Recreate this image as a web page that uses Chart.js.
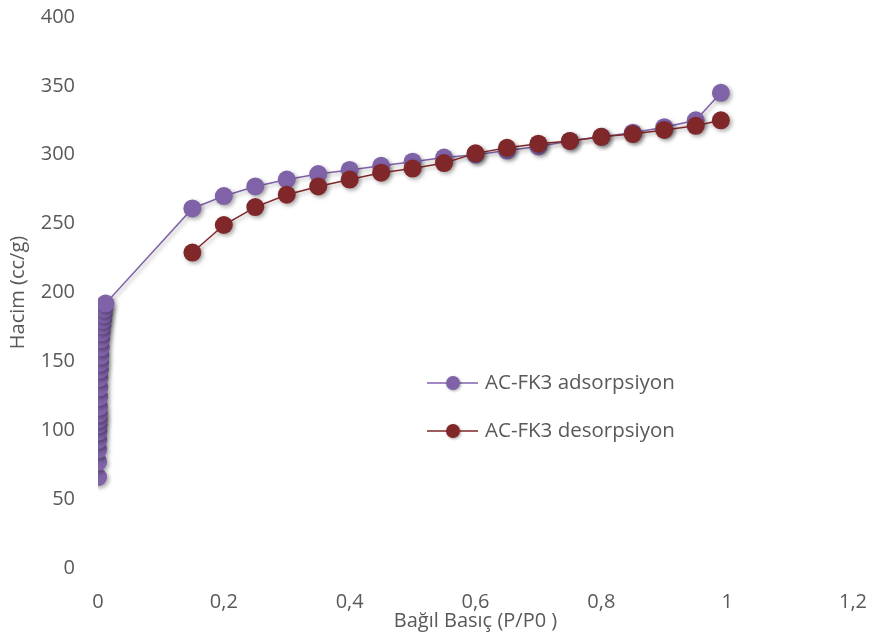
<!DOCTYPE html>
<html><head><meta charset="utf-8">
<script src="https://cdn.jsdelivr.net/npm/chart.js@4/dist/chart.umd.min.js"></script>
<style>html,body{margin:0;padding:0;background:#fff}#wrap{width:869px;height:640px}</style>
</head><body><div id="wrap"><canvas id="c" width="869" height="640"></canvas></div>
<script>
const seriesNames = ["AC-FK3 adsorpsiyon", "AC-FK3 desorpsiyon"];
const xTitle = "Bağıl Basıç (P/P0 )";
const yTitle = "Hacim (cc/g)";
const adsX = [0.0001,0.0002,0.0003,0.0005,0.0007,0.001,0.0012,0.0015,0.0018,0.002,0.0022,0.0025,0.003,0.0035,0.004,0.0045,0.005,0.006,0.007,0.008,0.009,0.01,0.012,
  0.15,0.2,0.25,0.3,0.35,0.4,0.45,0.5,0.55,0.6,0.65,0.7,0.75,0.8,0.85,0.9,0.95,0.99];
const adsY = [66,77,86,93,99,104,108,112,117,124,131,138,144,149,154,160,166,171,176,180,184,188,192,
  261,270,277,282,286,289,292,295,298,300,303,306,310,313,316,320,325,345];
const desX = [0.15,0.2,0.25,0.3,0.35,0.4,0.45,0.5,0.55,0.6,0.65,0.7,0.75,0.8,0.85,0.9,0.95,0.99];
const desY = [229,249,262,271,277,282,287,290,294,301,305,308,310,313,315,318,321,325];

const purple = "#7f62a8";
const red = "#80272a";
const FONT = "'Open Sans', 'Liberation Sans', sans-serif";
const toPts = (xs, ys) => xs.map((x, i) => ({x, y: ys[i]}));

const shadowPlugin = {
  id: 'shadow',
  beforeDatasetsDraw(chart) {
    const ctx = chart.ctx; ctx.save();
    ctx.shadowColor = 'rgba(0,0,0,0.35)'; ctx.shadowBlur = 4; ctx.shadowOffsetX = 2; ctx.shadowOffsetY = 2;
  },
  afterDatasetsDraw(chart) { chart.ctx.restore(); }
};

const legendPlugin = {
  id: 'customLegend',
  afterDraw(chart) {
    const ctx = chart.ctx;
    const items = [{ds: chart.data.datasets[1], y: 383}, {ds: chart.data.datasets[0], y: 431}];
    ctx.save();
    items.forEach(it => {
      const c = it.ds.borderColor;
      ctx.strokeStyle = c; ctx.lineWidth = 1.5;
      ctx.beginPath(); ctx.moveTo(427, it.y); ctx.lineTo(478, it.y); ctx.stroke();
      ctx.shadowColor = 'rgba(0,0,0,0.35)'; ctx.shadowBlur = 3; ctx.shadowOffsetX = 1; ctx.shadowOffsetY = 1;
      ctx.fillStyle = c; ctx.beginPath(); ctx.arc(453, it.y, 7, 0, Math.PI * 2); ctx.fill();
      ctx.shadowColor = 'transparent';
      ctx.fillStyle = '#595959'; ctx.font = "20.5px " + FONT; ctx.textBaseline = 'middle';
      ctx.fillText(it.ds.label, 485, it.y);
    });
    ctx.restore();
  }
};

const zeroPad = s => { s.paddingTop = 0; s.paddingBottom = 0; s.paddingLeft = 0; s.paddingRight = 0; };

new Chart(document.getElementById('c'), {
  type: 'scatter',
  data: {
    datasets: [
      { label: seriesNames[1], data: toPts(desX, desY), borderColor: red, backgroundColor: red,
        showLine: true, borderWidth: 1.5, pointRadius: 9, pointHoverRadius: 9, pointBorderWidth: 0, order: 0 },
      { label: seriesNames[0], data: toPts(adsX, adsY), borderColor: purple, backgroundColor: purple,
        showLine: true, borderWidth: 1.5, pointRadius: 9, pointHoverRadius: 9, pointBorderWidth: 0, order: 1 }
    ]
  },
  options: {
    responsive: false, animation: false,
    layout: { padding: { left: 0, right: 16, top: 17, bottom: 0 } },
    plugins: { legend: { display: false }, tooltip: { enabled: false } },
    scales: {
      x: { type: 'linear', min: 0, max: 1.2,
        grid: { display: false }, border: { display: false },
        afterFit: s => { s.height = 72; zeroPad(s); },
        ticks: { stepSize: 0.2, color: '#595959', font: { family: FONT, size: 20 }, padding: 14,
          callback: v => String(Math.round(v * 10) / 10).replace('.', ',') },
        title: { display: true, text: xTitle, color: '#595959', font: { family: FONT, size: 20 }, padding: { top: 0, bottom: 7 } } },
      y: { min: 0, max: 400,
        grid: { display: false }, border: { display: false },
        afterFit: s => { s.width = 98; zeroPad(s); },
        ticks: { stepSize: 50, color: '#595959', font: { family: FONT, size: 20 }, padding: 15 },
        title: { display: true, text: yTitle, color: '#595959', font: { family: FONT, size: 20 }, padding: { top: 6, bottom: 0 } } }
    }
  },
  plugins: [shadowPlugin, legendPlugin]
});
</script></body></html>
